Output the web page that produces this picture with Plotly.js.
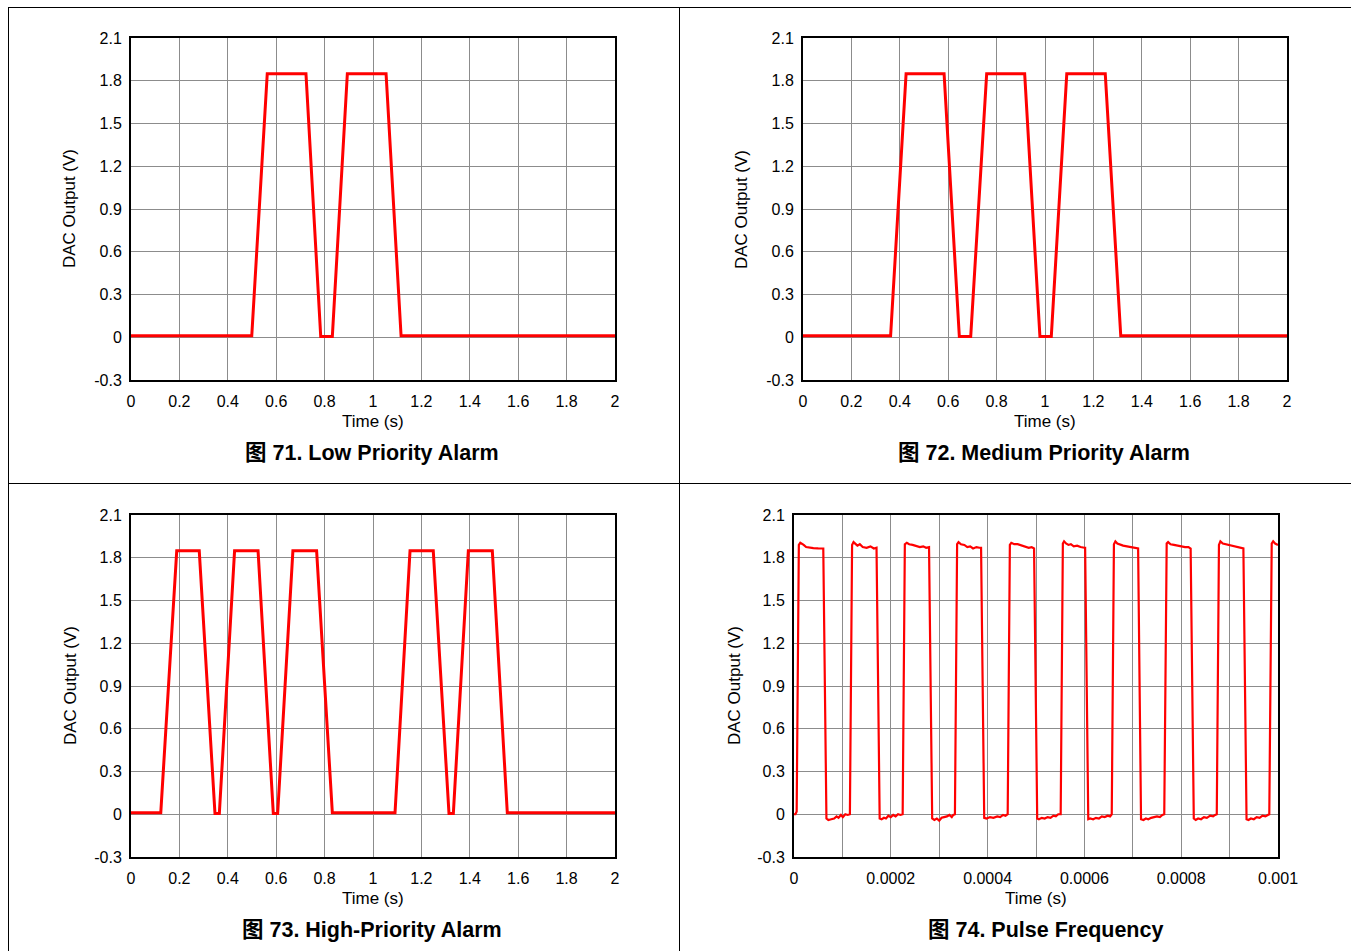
<!DOCTYPE html>
<html>
<head>
<meta charset="utf-8">
<script src="https://cdn.plot.ly/plotly-3.0.1.min.js"></script>
<style>
html,body{margin:0;padding:0;background:#fff;}
#chart{width:1351px;height:951px;}
</style>
</head>
<body>
<div id="chart"></div>
<script>
// ---------- DATA ----------
// Figure 71: Low Priority Alarm (time in s, DAC output in V)
var lowTime  = [0, 0.499, 0.563, 0.723, 0.784, 0.832, 0.894, 1.054, 1.116, 2.0];
var lowValue = [0.01, 0.01, 1.85, 1.85, 0.005, 0.005, 1.85, 1.85, 0.01, 0.01];

// Figure 72: Medium Priority Alarm
var medTime  = [0, 0.362, 0.426, 0.583, 0.646, 0.693, 0.759, 0.916, 0.979, 1.026, 1.090, 1.249, 1.313, 2.0];
var medValue = [0.01, 0.01, 1.85, 1.85, 0.005, 0.005, 1.85, 1.85, 0.005, 0.005, 1.85, 1.85, 0.01, 0.01];

// Figure 73: High-Priority Alarm
var highTime  = [0, 0.123, 0.189, 0.282, 0.347, 0.365, 0.428, 0.525, 0.588, 0.606, 0.669, 0.767, 0.832,
                 1.091, 1.153, 1.249, 1.314, 1.332, 1.394, 1.493, 1.555, 2.0];
var highValue = [0.01, 0.01, 1.85, 1.85, 0.005, 0.005, 1.85, 1.85, 0.005, 0.005, 1.85, 1.85, 0.01,
                 0.01, 1.85, 1.85, 0.005, 0.005, 1.85, 1.85, 0.01, 0.01];

// Figure 74: Pulse Frequency (time in microseconds, DAC output in V)
var pulseTimeUs = [0,3,5.5,10,13,16,20,25,32,40,50,60.5,67,71,77,83,88,92,97,101,106,111,
  115.5,120,123,127,131,136,142,150,158,165,170.5,177,181,186,190,195,200,205,210,215,220,
  224.5,229,233,238,245,252,260,267,273,279,285.5,290,295,300,305,310,316,321,326,329,
  332.5,337,340,345,352,358,364,370,377,383,386.5,393,398,405,412,420,426,432,437,
  441.5,446,449,455,462,470,478,485,491,496,502.5,506,512,518,524,530,536,541,546,
  551,555.5,558,562,567,572,578,585,592,600,601.5,608,612,618,624,630,636,642,648,653,
  656.5,661,664,668,674,680,688,696,704,711,717,722,727,732,738,744,750,756,761,
  765,770,773,778,785,792,800,808,815,819.5,826,830,835,841,847,853,860,866,870,
  873.5,878,881,886,892,900,908,915,922,928.5,935,939,944,950,956,962,968,974,979,
  982,987,990,994,998,1000];
var pulseValue = [0.00,0.00,0.02,1.89,1.905,1.90,1.89,1.875,1.87,1.868,1.866,1.865,-0.03,-0.04,-0.035,-0.03,-0.015,-0.025,-0.005,-0.02,0.0,-0.005,
  0.0,1.89,1.91,1.895,1.885,1.895,1.875,1.87,1.88,1.865,1.87,-0.03,-0.035,-0.025,-0.03,-0.01,-0.02,-0.005,-0.015,0.0,-0.005,
  0.0,1.895,1.905,1.895,1.89,1.885,1.875,1.88,1.87,1.875,-0.03,-0.04,-0.03,-0.045,-0.025,-0.02,-0.015,-0.005,-0.02,-0.005,
  0.0,1.895,1.91,1.895,1.89,1.875,1.88,1.865,1.875,1.87,1.87,-0.025,-0.03,-0.02,-0.025,-0.015,-0.02,-0.005,-0.01,
  0.0,1.89,1.905,1.895,1.895,1.885,1.88,1.87,1.875,1.865,-0.03,-0.035,-0.025,-0.03,-0.02,-0.025,-0.01,-0.015,0.0,
  0.0,1.9,1.915,1.9,1.89,1.895,1.88,1.885,1.875,1.87,1.87,-0.035,-0.03,-0.035,-0.025,-0.03,-0.015,-0.02,-0.01,-0.015,
  0.0,1.895,1.915,1.9,1.89,1.885,1.88,1.875,1.87,1.865,-0.035,-0.04,-0.03,-0.035,-0.025,-0.02,-0.015,-0.02,-0.005,
  0.0,1.9,1.91,1.895,1.89,1.885,1.88,1.875,1.875,1.865,-0.03,-0.04,-0.03,-0.035,-0.02,-0.025,-0.01,-0.015,-0.005,
  0.0,1.89,1.915,1.9,1.895,1.885,1.88,1.875,1.87,1.865,-0.035,-0.04,-0.03,-0.035,-0.02,-0.025,-0.01,-0.015,-0.005,
  0.0,1.9,1.915,1.9,1.895,1.89];

// Tick values / labels
var alarmTickVals = [0, 0.2, 0.4, 0.6, 0.8, 1.0, 1.2, 1.4, 1.6, 1.8, 2.0];
var alarmTickText = ['0', '0.2', '0.4', '0.6', '0.8', '1', '1.2', '1.4', '1.6', '1.8', '2'];
var pulseTickVals = [0, 0.0001, 0.0002, 0.0003, 0.0004, 0.0005, 0.0006, 0.0007, 0.0008, 0.0009, 0.001];
var pulseTickText = ['0', '', '0.0002', '', '0.0004', '', '0.0006', '', '0.0008', '', '0.001'];
var voltTickVals = [-0.3, 0, 0.3, 0.6, 0.9, 1.2, 1.5, 1.8, 2.1];
var voltTickText = ['-0.3', '0', '0.3', '0.6', '0.9', '1.2', '1.5', '1.8', '2.1'];

var captions = ['图 71. Low Priority Alarm', '图 72. Medium Priority Alarm',
                '图 73. High-Priority Alarm', '图 74. Pulse Frequency'];
var xTitle = 'Time (s)';
var yTitle = 'DAC Output (V)';

// ---------- LAYOUT ----------
var W = 1351, H = 951;
function px(x) { return x / W; }
function py(y) { return 1 - y / H; }
var FONT = 'Liberation Sans, Arial, Noto Sans CJK SC, sans-serif';
var RED = '#ff0000';

function xAxis(l, r, anchor, vals, text, range) {
  return {
    domain: [px(l), px(r)], anchor: anchor, range: range,
    tickmode: 'array', tickvals: vals, ticktext: text,
    showgrid: true, gridcolor: '#8c8c8c', gridwidth: 1,
    showline: true, linecolor: '#000', linewidth: 2, mirror: true,
    ticks: '', zeroline: false, fixedrange: true, ticklabelstandoff: 6,
    tickfont: {family: FONT, size: 16, color: '#000'}
  };
}
function yAxis(t, b, anchor) {
  return {
    domain: [py(b), py(t)], anchor: anchor, range: [-0.3, 2.1],
    tickmode: 'array', tickvals: voltTickVals, ticktext: voltTickText,
    showgrid: true, gridcolor: '#8c8c8c', gridwidth: 1,
    showline: true, linecolor: '#000', linewidth: 2, mirror: true,
    ticks: '', zeroline: false, fixedrange: true, ticklabelstandoff: 4,
    tickfont: {family: FONT, size: 16, color: '#000'}
  };
}

var traces = [
  {x: lowTime, y: lowValue, xaxis: 'x', yaxis: 'y', mode: 'lines', line: {color: RED, width: 3}},
  {x: medTime, y: medValue, xaxis: 'x2', yaxis: 'y2', mode: 'lines', line: {color: RED, width: 3}},
  {x: highTime, y: highValue, xaxis: 'x3', yaxis: 'y3', mode: 'lines', line: {color: RED, width: 3}},
  {x: pulseTimeUs.map(function (t) { return t * 1e-6; }), y: pulseValue, xaxis: 'x4', yaxis: 'y4',
   mode: 'lines', line: {color: RED, width: 2.2}}
];

function ann(text, x, y, size, bold, angle) {
  return {text: bold ? '<b>' + text + '</b>' : text, x: px(x), y: py(y), xref: 'paper', yref: 'paper',
          xanchor: 'center', yanchor: 'middle', showarrow: false, textangle: angle || 0,
          font: {family: FONT, size: size, color: '#000'}};
}

var annotations = [
  ann(yTitle, 70, 209, 17, false, -90),
  ann(yTitle, 742, 209, 17, false, -90),
  ann(yTitle, 70, 686, 17, false, -90),
  ann(yTitle, 734, 686, 17, false, -90),
  ann(xTitle, 373, 421, 17, false),
  ann(xTitle, 1045, 421, 17, false),
  ann(xTitle, 373, 898, 17, false),
  ann(xTitle, 1036, 898, 17, false),
  ann(captions[0], 372, 453, 21.5, true),
  ann(captions[1], 1044, 453, 21.5, true),
  ann(captions[2], 372, 930, 21.5, true),
  ann(captions[3], 1045, 930, 21.5, true)
];

function line(x0, y0, x1, y1) {
  return {type: 'line', xref: 'paper', yref: 'paper', x0: px(x0), y0: py(y0), x1: px(x1), y1: py(y1),
          line: {color: '#000', width: 1}};
}
var shapes = [
  line(8, 7.5, 1351, 7.5),
  line(8.5, 7, 8.5, 951),
  line(679.5, 7, 679.5, 951),
  line(8, 483.5, 1351, 483.5)
];

var layout = {
  width: W, height: H, margin: {l: 0, r: 0, t: 0, b: 0},
  paper_bgcolor: '#fff', plot_bgcolor: '#fff', showlegend: false,
  font: {family: FONT, color: '#000'},
  xaxis:  xAxis(131, 615, 'y', alarmTickVals, alarmTickText, [0, 2]),
  yaxis:  yAxis(38, 380, 'x'),
  xaxis2: xAxis(803, 1287, 'y2', alarmTickVals, alarmTickText, [0, 2]),
  yaxis2: yAxis(38, 380, 'x2'),
  xaxis3: xAxis(131, 615, 'y3', alarmTickVals, alarmTickText, [0, 2]),
  yaxis3: yAxis(515, 857, 'x3'),
  xaxis4: xAxis(794, 1278, 'y4', pulseTickVals, pulseTickText, [0, 0.001]),
  yaxis4: yAxis(515, 857, 'x4'),
  annotations: annotations,
  shapes: shapes
};

Plotly.newPlot('chart', traces, layout, {staticPlot: true, displayModeBar: false});
</script>
</body>
</html>
